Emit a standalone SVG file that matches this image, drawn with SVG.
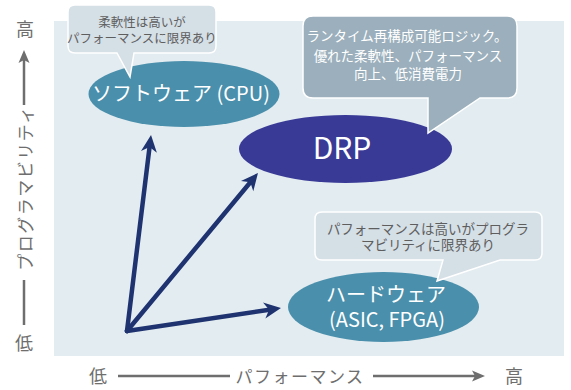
<svg xmlns="http://www.w3.org/2000/svg" width="571" height="390" viewBox="0 0 571 390">
<style>
text{font-family:"Noto Sans CJK JP","Noto Sans",sans-serif}
.ax{fill:#6e6e6e;font-size:18px}
.axl{stroke:#6e6e6e;stroke-width:2.5;fill:none}
.arr{stroke:#1e3370;stroke-width:4.5;fill:none;stroke-linecap:round}
.callL{fill:#d5dfe6;stroke:#ffffff;stroke-width:1.5}
.callD{fill:#9bafbc;stroke:#ffffff;stroke-width:1.5}
.ctxt{fill:#5e5e5e;font-size:12.5px;text-anchor:middle}
.dtxt{fill:#ffffff;font-size:13.5px;text-anchor:middle}
.etxt{fill:#ffffff;font-size:20px;text-anchor:middle}
</style>
<defs>
<marker id="ah" markerUnits="userSpaceOnUse" orient="auto" overflow="visible" markerWidth="1" markerHeight="1" refX="0" refY="0">
<path d="M10,0 L-7,-8 L-2,0 L-7,8 Z" fill="#1e3370"/>
</marker>
<marker id="ag" markerUnits="userSpaceOnUse" orient="auto" overflow="visible" markerWidth="1" markerHeight="1" refX="0" refY="0">
<path d="M8,0 L-5,-5.5 L-2,0 L-5,5.5 Z" fill="#6e6e6e"/>
</marker>
</defs>
<rect x="54" y="21" width="510" height="335" fill="#e3ecf0"/>
<g id="axes">
<text class="ax" x="25" y="36" text-anchor="middle">高</text>
<path class="axl" d="M24,105 V58" marker-end="url(#ag)"/>
<text class="ax" transform="translate(32,188) rotate(-90)" text-anchor="middle" style="font-size:17px;letter-spacing:1.5px">プログラマビリティ</text>
<path class="axl" d="M24,280 V325"/>
<text class="ax" x="24" y="350" text-anchor="middle">低</text>
<text class="ax" x="98" y="383" text-anchor="middle">低</text>
<path class="axl" d="M118,376 H230"/>
<text class="ax" x="300" y="383" text-anchor="middle" style="font-size:17px;letter-spacing:1.5px">パフォーマンス</text>
<path class="axl" d="M373,376 H477" marker-end="url(#ag)"/>
<text class="ax" x="514" y="383" text-anchor="middle">高</text>
</g>
<g id="connectors">
<path class="arr" d="M127,331 L149.8,144.9" marker-end="url(#ah)"/>
<path class="arr" d="M127,331 L251.6,180.7" marker-end="url(#ah)"/>
<path class="arr" d="M127,331 L271.1,309.5" marker-end="url(#ah)"/>
</g>
<g id="software">
<ellipse cx="184" cy="94" rx="95.5" ry="33" fill="#4a8fac"/>
<text class="etxt" x="181" y="101">ソフトウェア (CPU)</text>
</g>
<g id="software-note">
<path class="callL" d="M75,5 H209 Q216,5 216,12 V46 Q216,53 209,53 H134 L130,77 L117,53 H75 Q68,53 68,46 V12 Q68,5 75,5 Z"/>
<text class="ctxt" x="142" y="27">柔軟性は高いが</text>
<text class="ctxt" x="142" y="43">パフォーマンスに限界あり</text>
</g>
<g id="drp">
<ellipse cx="345.5" cy="149" rx="106.5" ry="34" fill="#383a96"/>
<text x="342" y="159" fill="#ffffff" font-size="30" text-anchor="middle">DRP</text>
</g>
<g id="drp-note">
<path class="callD" d="M313,16 H507 Q517,16 517,26 V88 Q517,98 507,98 H480 L428,133 V98 H313 Q303,98 303,88 V26 Q303,16 313,16 Z"/>
<text class="dtxt" x="407" y="41">ランタイム再構成可能ロジック。</text>
<text class="dtxt" x="408" y="61">優れた柔軟性、パフォーマンス</text>
<text class="dtxt" x="408" y="79">向上、低消費電力</text>
</g>
<g id="hardware">
<ellipse cx="383.5" cy="307" rx="95.5" ry="35" fill="#4a8fac"/>
<text class="etxt" x="386" y="302">ハードウェア</text>
<text class="etxt" x="387" y="327">(ASIC, FPGA)</text>
</g>
<g id="hardware-note">
<path class="callL" d="M322,212 H535 Q542,212 542,219 V253 Q542,260 535,260 H500 L437,281 L443,260 H322 Q315,260 315,253 V219 Q315,212 322,212 Z"/>
<text class="ctxt" x="428" y="234" style="font-size:13.5px">パフォーマンスは高いがプログラ</text>
<text class="ctxt" x="428" y="250" style="font-size:13.5px">マビリティに限界あり</text>
</g>
</svg>
